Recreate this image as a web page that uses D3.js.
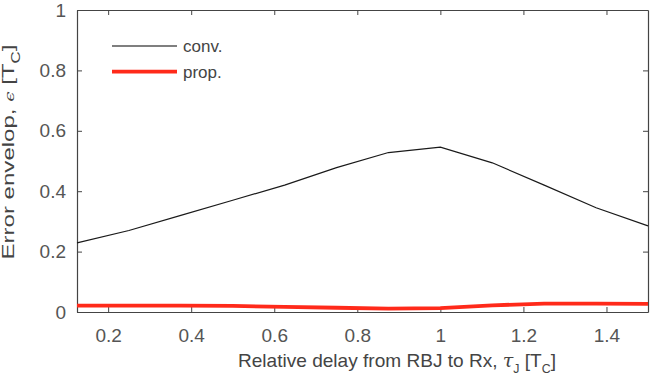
<!DOCTYPE html>
<html>
<head>
<meta charset="utf-8">
<script src="https://cdn.jsdelivr.net/npm/d3@7"></script>
<style>
  body { margin: 0; background: #fff; }
  svg { display: block; }
  .tick text { font-family: "Liberation Sans", Arial, sans-serif; font-size: 19px; fill: #555; }
</style>
</head>
<body>
<div id="chart"></div>
<script>
// data
const delay = [0.125, 0.25, 0.375, 0.5, 0.625, 0.75, 0.875, 1.0, 1.125, 1.25, 1.375, 1.5];
const convErr = [0.229, 0.27, 0.32, 0.37, 0.42, 0.478, 0.528, 0.546, 0.494, 0.42, 0.345, 0.285];
const propErr = [0.021, 0.021, 0.021, 0.02, 0.017, 0.014, 0.011, 0.013, 0.022, 0.028, 0.028, 0.027];
const xTicks = [0.2, 0.4, 0.6, 0.8, 1, 1.2, 1.4];
const yTicks = [0, 0.2, 0.4, 0.6, 0.8, 1];
const seriesNames = ["conv.", "prop."];

const W = 659, H = 379;
const margin = {top: 10, right: 11, bottom: 67, left: 77};
const width = W - margin.left - margin.right;
const height = H - margin.top - margin.bottom;

const svg = d3.select('#chart').append('svg')
  .attr('width', W)
  .attr('height', H);

const g = svg.append('g')
  .attr('transform', `translate(${margin.left},${margin.top})`);

const x = d3.scaleLinear().domain([0.125, 1.5]).range([0, width]);
const y = d3.scaleLinear().domain([0, 1]).range([height, 0]);

const axisColor = '#444';

// axes (matlab style box, ticks inward)
const fmt = d => d3.format('')(d);
const gx = g.append('g').attr('transform', `translate(0,${height})`)
  .call(d3.axisBottom(x).tickValues(xTicks).tickSizeInner(-5).tickSizeOuter(0).tickPadding(17).tickFormat(fmt));
const gy = g.append('g')
  .call(d3.axisLeft(y).tickValues(yTicks).tickSizeInner(-5).tickSizeOuter(0).tickPadding(11).tickFormat(fmt));
const gxt = g.append('g')
  .call(d3.axisTop(x).tickValues(xTicks).tickSizeInner(-5).tickSizeOuter(0).tickFormat(''));
const gyr = g.append('g').attr('transform', `translate(${width},0)`)
  .call(d3.axisRight(y).tickValues(yTicks).tickSizeInner(-5).tickSizeOuter(0).tickFormat(''));

[gx, gy, gxt, gyr].forEach(a => {
  a.select('.domain').attr('stroke', axisColor).attr('stroke-width', 1.2);
  a.selectAll('.tick line').attr('stroke', axisColor);
});

// lines
const line = d3.line()
  .x((d, i) => x(delay[i]))
  .y(d => y(d));

g.append('path')
  .datum(convErr)
  .attr('d', line)
  .attr('fill', 'none')
  .attr('stroke', '#1a1a1a')
  .attr('stroke-width', 1.2);

g.append('path')
  .datum(propErr)
  .attr('d', line)
  .attr('fill', 'none')
  .attr('stroke', '#ff2a1a')
  .attr('stroke-width', 3.8);

// legend
const legendColors = ['#555', '#ff2a1a'];
const legendWidths = [1.5, 3.8];
const leg = g.append('g').attr('transform', 'translate(35,36)');
seriesNames.forEach((name, i) => {
  const row = leg.append('g').attr('transform', `translate(0,${i * 25.7})`);
  row.append('line')
    .attr('x1', 0).attr('x2', 65)
    .attr('stroke', legendColors[i])
    .attr('stroke-width', legendWidths[i]);
  row.append('text')
    .attr('x', 71).attr('y', 6)
    .style('font-family', '"Liberation Sans", Arial, sans-serif')
    .style('font-size', '17px')
    .attr('fill', '#444')
    .text(name);
});

// axis titles
const xl = svg.append('text')
  .attr('x', 397)
  .attr('y', 367)
  .attr('text-anchor', 'middle')
  .attr('textLength', 318)
  .attr('lengthAdjust', 'spacingAndGlyphs')
  .style('font-family', '"Liberation Sans", Arial, sans-serif')
  .style('font-size', '18.5px')
  .attr('fill', '#444');
xl.append('tspan').text('Relative delay from RBJ to Rx, ');
xl.append('tspan').style('font-family', '"DejaVu Serif", serif').style('font-style', 'italic').text('τ');
xl.append('tspan').attr('dy', 6).style('font-size', '12px').text('J');
xl.append('tspan').attr('dy', -6).text(' [T');
xl.append('tspan').attr('dy', 6).style('font-size', '12px').text('C');
xl.append('tspan').attr('dy', -6).text(']');

const yl = svg.append('text')
  .attr('transform', 'translate(14,152) rotate(-90)')
  .attr('text-anchor', 'middle')
  .attr('textLength', 215)
  .attr('lengthAdjust', 'spacingAndGlyphs')
  .style('font-family', '"Liberation Sans", Arial, sans-serif')
  .style('font-size', '17px')
  .attr('fill', '#444');
yl.append('tspan').text('Error envelop, ');
yl.append('tspan').style('font-family', '"DejaVu Serif", serif').style('font-style', 'italic').style('font-size', '13px').text('ϵ');
yl.append('tspan').text(' [T');
yl.append('tspan').attr('dy', 6).style('font-size', '12px').text('C');
yl.append('tspan').attr('dy', -6).text(']');
</script>
</body>
</html>
